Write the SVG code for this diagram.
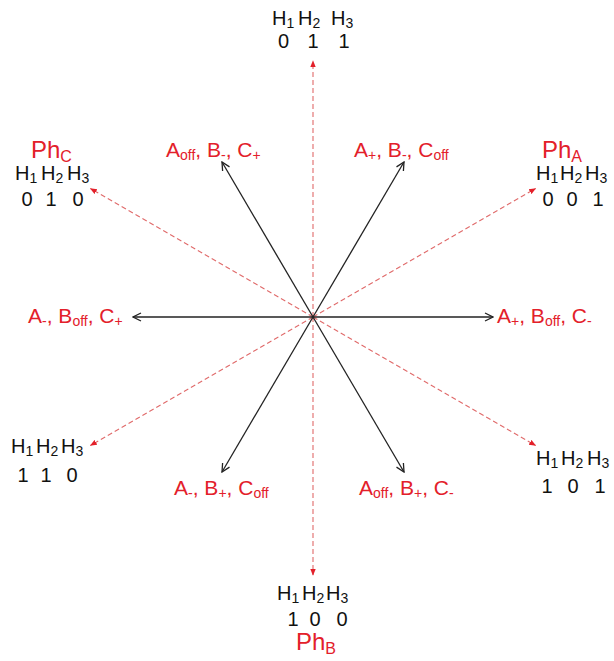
<svg xmlns="http://www.w3.org/2000/svg" width="614" height="661" viewBox="0 0 614 661">
<defs>
<style>
text{font-family:"Liberation Sans",Arial,sans-serif;}
.h{font-size:20px;fill:#111;}
.d{font-size:20px;fill:#111;text-anchor:middle;}
.s{font-size:14px;}
.r{font-size:21px;fill:#e3202a;}
.ph{font-size:24px;fill:#e3202a;}
.blk{stroke:#222;stroke-width:1.3;fill:none;marker-end:url(#ab);}
.dsh{stroke:#e06a6a;stroke-width:1.1;stroke-dasharray:5,3;fill:none;marker-end:url(#ar);}
</style>
<marker id="ab" viewBox="0 0 10 10" refX="9" refY="5" markerWidth="10" markerHeight="10" markerUnits="userSpaceOnUse" orient="auto">
<path d="M1,1 L9,5 L1,9" fill="none" stroke="#222" stroke-width="1.3"/>
</marker>
<marker id="ar" viewBox="0 0 10 10" refX="9" refY="5" markerWidth="7" markerHeight="7" markerUnits="userSpaceOnUse" orient="auto">
<path d="M0,1 L10,5 L0,9 Z" fill="#e3202a"/>
</marker>
</defs>
<g id="connectors">
<line class="dsh" x1="313" y1="317" x2="313" y2="61"/>
<line class="dsh" x1="313" y1="317" x2="313" y2="575"/>
<line class="dsh" x1="313" y1="317" x2="90.5" y2="188.5"/>
<line class="dsh" x1="313" y1="317" x2="535.5" y2="188.5"/>
<line class="dsh" x1="313" y1="317" x2="90.5" y2="445.5"/>
<line class="dsh" x1="313" y1="317" x2="535.5" y2="445.5"/>
<line class="blk" x1="313" y1="317" x2="222" y2="162"/>
<line class="blk" x1="313" y1="317" x2="404" y2="162"/>
<line class="blk" x1="313" y1="317" x2="222" y2="472"/>
<line class="blk" x1="313" y1="317" x2="404" y2="472"/>
<line class="blk" x1="313" y1="317" x2="133" y2="317"/>
<line class="blk" x1="313" y1="317" x2="493" y2="317"/>
</g>
<g id="hall-011">
<text class="h" y="25"><tspan x="272">H</tspan><tspan class="s" dy="3">1</tspan><tspan x="298" dy="-3">H</tspan><tspan class="s" dy="3">2</tspan><tspan x="331" dy="-3">H</tspan><tspan class="s" dy="3">3</tspan></text>
<text class="d" y="48"><tspan x="283.5">0</tspan><tspan x="313">1</tspan><tspan x="344">1</tspan></text>
</g>
<g id="hall-010">
<text class="ph" x="31" y="158">Ph<tspan font-size="16" dy="4">C</tspan></text>
<text class="h" y="180"><tspan x="15">H</tspan><tspan class="s" dy="3">1</tspan><tspan x="41" dy="-3">H</tspan><tspan class="s" dy="3">2</tspan><tspan x="67" dy="-3">H</tspan><tspan class="s" dy="3">3</tspan></text>
<text class="d" y="206"><tspan x="27">0</tspan><tspan x="51">1</tspan><tspan x="78">0</tspan></text>
</g>
<g id="hall-001">
<text class="ph" x="542" y="158">Ph<tspan font-size="16" dy="4">A</tspan></text>
<text class="h" y="180"><tspan x="536">H</tspan><tspan class="s" dy="3">1</tspan><tspan x="560" dy="-3">H</tspan><tspan class="s" dy="3">2</tspan><tspan x="585" dy="-3">H</tspan><tspan class="s" dy="3">3</tspan></text>
<text class="d" y="206"><tspan x="548">0</tspan><tspan x="572">0</tspan><tspan x="598">1</tspan></text>
</g>
<g id="hall-110">
<text class="h" y="453"><tspan x="11">H</tspan><tspan class="s" dy="3">1</tspan><tspan x="36" dy="-3">H</tspan><tspan class="s" dy="3">2</tspan><tspan x="61" dy="-3">H</tspan><tspan class="s" dy="3">3</tspan></text>
<text class="d" y="482"><tspan x="23">1</tspan><tspan x="46">1</tspan><tspan x="72">0</tspan></text>
</g>
<g id="hall-101">
<text class="h" y="465"><tspan x="536">H</tspan><tspan class="s" dy="3">1</tspan><tspan x="561" dy="-3">H</tspan><tspan class="s" dy="3">2</tspan><tspan x="587" dy="-3">H</tspan><tspan class="s" dy="3">3</tspan></text>
<text class="d" y="493"><tspan x="547">1</tspan><tspan x="573">0</tspan><tspan x="600">1</tspan></text>
</g>
<g id="hall-100">
<text class="h" y="600"><tspan x="277">H</tspan><tspan class="s" dy="3">1</tspan><tspan x="302" dy="-3">H</tspan><tspan class="s" dy="3">2</tspan><tspan x="326" dy="-3">H</tspan><tspan class="s" dy="3">3</tspan></text>
<text class="d" y="626"><tspan x="293">1</tspan><tspan x="315">0</tspan><tspan x="342">0</tspan></text>
<text class="ph" x="296" y="650">Ph<tspan font-size="16" dy="4">B</tspan></text>
</g>
<g id="state-ul">
<text class="r" x="166" y="157">A<tspan class="s" dy="3">off</tspan><tspan dy="-3">, B</tspan><tspan class="s" dy="3">-</tspan><tspan dy="-3">, C</tspan><tspan class="s" dy="3">+</tspan></text>
</g>
<g id="state-ur">
<text class="r" x="354" y="157">A<tspan class="s" dy="3">+</tspan><tspan dy="-3">, B</tspan><tspan class="s" dy="3">-</tspan><tspan dy="-3">, C</tspan><tspan class="s" dy="3">off</tspan></text>
</g>
<g id="state-l">
<text class="r" x="28" y="323">A<tspan class="s" dy="3">-</tspan><tspan dy="-3">, B</tspan><tspan class="s" dy="3">off</tspan><tspan dy="-3">, C</tspan><tspan class="s" dy="3">+</tspan></text>
</g>
<g id="state-r">
<text class="r" x="497" y="323">A<tspan class="s" dy="3">+</tspan><tspan dy="-3">, B</tspan><tspan class="s" dy="3">off</tspan><tspan dy="-3">, C</tspan><tspan class="s" dy="3">-</tspan></text>
</g>
<g id="state-dl">
<text class="r" x="174" y="495">A<tspan class="s" dy="3">-</tspan><tspan dy="-3">, B</tspan><tspan class="s" dy="3">+</tspan><tspan dy="-3">, C</tspan><tspan class="s" dy="3">off</tspan></text>
</g>
<g id="state-dr">
<text class="r" x="359" y="495">A<tspan class="s" dy="3">off</tspan><tspan dy="-3">, B</tspan><tspan class="s" dy="3">+</tspan><tspan dy="-3">, C</tspan><tspan class="s" dy="3">-</tspan></text>
</g>
</svg>
